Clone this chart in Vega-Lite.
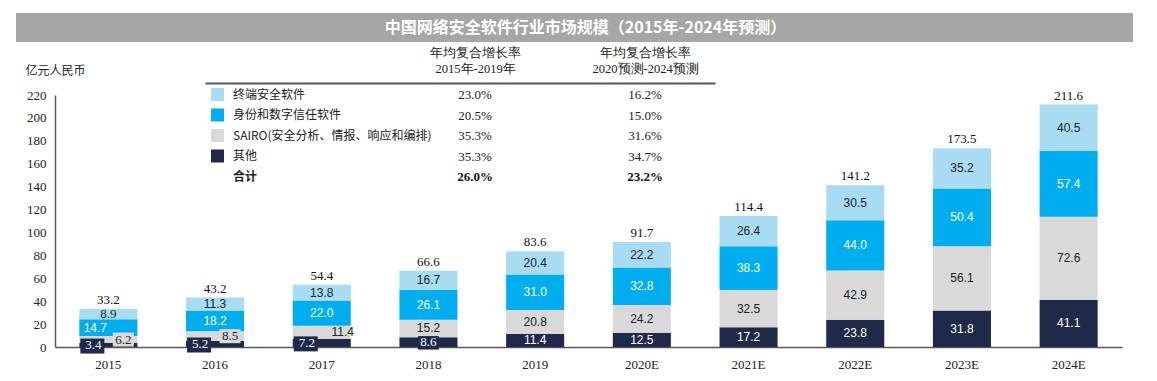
{
  "$schema": "https://vega.github.io/schema/vega-lite/v6.json",
  "width": 1067,
  "height": 252,
  "autosize": {"type": "none"},
  "padding": {"left": 55, "top": 95, "right": 35, "bottom": 34},
  "background": "white",
  "config": {
    "view": {"stroke": null},
    "axisY": {"values": [0, 20, 40, 60, 80, 100, 120, 140, 160, 180, 200, 220], "labelOverlap": false, "grid": false, "ticks": false, "domainColor": "#595959", "domainWidth": 1.5, "labelFont": "Liberation Serif", "labelFontSize": 13, "labelColor": "#222222", "labelPadding": 9},
    "axisX": {"ticks": false, "grid": false, "domainColor": "#595959", "domainWidth": 1.5, "labelFont": "Liberation Serif", "labelFontSize": 13, "labelColor": "#222222", "labelPadding": 11, "labelAngle": 0}
  },
  "datasets": {
    "market": [
      {"year": "2015", "cat": "其他", "v": 3.4},
      {"year": "2015", "cat": "SAIRO(安全分析、情报、响应和编排)", "v": 6.2},
      {"year": "2015", "cat": "身份和数字信任软件", "v": 14.7},
      {"year": "2015", "cat": "终端安全软件", "v": 8.9},
      {"year": "2016", "cat": "其他", "v": 5.2},
      {"year": "2016", "cat": "SAIRO(安全分析、情报、响应和编排)", "v": 8.5},
      {"year": "2016", "cat": "身份和数字信任软件", "v": 18.2},
      {"year": "2016", "cat": "终端安全软件", "v": 11.3},
      {"year": "2017", "cat": "其他", "v": 7.2},
      {"year": "2017", "cat": "SAIRO(安全分析、情报、响应和编排)", "v": 11.4},
      {"year": "2017", "cat": "身份和数字信任软件", "v": 22.0},
      {"year": "2017", "cat": "终端安全软件", "v": 13.8},
      {"year": "2018", "cat": "其他", "v": 8.6},
      {"year": "2018", "cat": "SAIRO(安全分析、情报、响应和编排)", "v": 15.2},
      {"year": "2018", "cat": "身份和数字信任软件", "v": 26.1},
      {"year": "2018", "cat": "终端安全软件", "v": 16.7},
      {"year": "2019", "cat": "其他", "v": 11.4},
      {"year": "2019", "cat": "SAIRO(安全分析、情报、响应和编排)", "v": 20.8},
      {"year": "2019", "cat": "身份和数字信任软件", "v": 31.0},
      {"year": "2019", "cat": "终端安全软件", "v": 20.4},
      {"year": "2020E", "cat": "其他", "v": 12.5},
      {"year": "2020E", "cat": "SAIRO(安全分析、情报、响应和编排)", "v": 24.2},
      {"year": "2020E", "cat": "身份和数字信任软件", "v": 32.8},
      {"year": "2020E", "cat": "终端安全软件", "v": 22.2},
      {"year": "2021E", "cat": "其他", "v": 17.2},
      {"year": "2021E", "cat": "SAIRO(安全分析、情报、响应和编排)", "v": 32.5},
      {"year": "2021E", "cat": "身份和数字信任软件", "v": 38.3},
      {"year": "2021E", "cat": "终端安全软件", "v": 26.4},
      {"year": "2022E", "cat": "其他", "v": 23.8},
      {"year": "2022E", "cat": "SAIRO(安全分析、情报、响应和编排)", "v": 42.9},
      {"year": "2022E", "cat": "身份和数字信任软件", "v": 44.0},
      {"year": "2022E", "cat": "终端安全软件", "v": 30.5},
      {"year": "2023E", "cat": "其他", "v": 31.8},
      {"year": "2023E", "cat": "SAIRO(安全分析、情报、响应和编排)", "v": 56.1},
      {"year": "2023E", "cat": "身份和数字信任软件", "v": 50.4},
      {"year": "2023E", "cat": "终端安全软件", "v": 35.2},
      {"year": "2024E", "cat": "其他", "v": 41.1},
      {"year": "2024E", "cat": "SAIRO(安全分析、情报、响应和编排)", "v": 72.6},
      {"year": "2024E", "cat": "身份和数字信任软件", "v": 57.4},
      {"year": "2024E", "cat": "终端安全软件", "v": 40.5}
    ],
    "series": [
      {"cat": "其他", "k": 1},
      {"cat": "SAIRO(安全分析、情报、响应和编排)", "k": 2},
      {"cat": "身份和数字信任软件", "k": 3},
      {"cat": "终端安全软件", "k": 4}
    ],
    "cagr": [
      {"name": "终端安全软件", "period": "2015年-2019年", "val": "23.0%"},
      {"name": "终端安全软件", "period": "2020预测-2024预测", "val": "16.2%"},
      {"name": "身份和数字信任软件", "period": "2015年-2019年", "val": "20.5%"},
      {"name": "身份和数字信任软件", "period": "2020预测-2024预测", "val": "15.0%"},
      {"name": "SAIRO(安全分析、情报、响应和编排)", "period": "2015年-2019年", "val": "35.3%"},
      {"name": "SAIRO(安全分析、情报、响应和编排)", "period": "2020预测-2024预测", "val": "31.6%"},
      {"name": "其他", "period": "2015年-2019年", "val": "35.3%"},
      {"name": "其他", "period": "2020预测-2024预测", "val": "34.7%"},
      {"name": "合计", "period": "2015年-2019年", "val": "26.0%"},
      {"name": "合计", "period": "2020预测-2024预测", "val": "23.2%"}
    ],
    "title": [
      {"t": "中国网络安全软件行业市场规模（2015年-2024年预测）"}
    ]
  },
  "layer": [
    {
      "data": {"name": "market"},
      "transform": [
        {"lookup": "cat", "from": {"data": {"name": "series"}, "key": "cat", "fields": ["k"]}}
      ],
      "encoding": {
        "x": {
          "field": "year", "type": "nominal", "sort": null,
          "scale": {"paddingInner": 0.456, "paddingOuter": 0.228},
          "axis": {"title": null}
        }
      },
      "layer": [
        {
          "mark": {"type": "bar"},
          "encoding": {
            "y": {
              "field": "v", "type": "quantitative", "stack": "zero",
              "scale": {"domain": [0, 220], "nice": false},
              "axis": {"title": "亿元人民币", "titleAngle": 0, "titleAlign": "left", "titleBaseline": "middle", "titleX": -30, "titleY": -25, "titleFont": "Noto Sans CJK SC", "titleFontSize": 12, "titleFontWeight": "normal", "titleColor": "#222222"}
            },
            "order": {"field": "k", "type": "quantitative"},
            "color": {
              "field": "cat", "type": "nominal",
              "scale": {
                "domain": ["其他", "SAIRO(安全分析、情报、响应和编排)", "身份和数字信任软件", "终端安全软件", "合计"],
                "range": ["#1f2a4b", "#d9d9d9", "#00aeef", "#a8dcf2", "#ffffff"]
              },
              "legend": {
                "orient": "none", "legendX": 156, "legendY": -7, "title": null,
                "values": ["终端安全软件", "身份和数字信任软件", "SAIRO(安全分析、情报、响应和编排)", "其他", "合计"],
                "symbolType": "square", "symbolSize": 169, "symbolStrokeWidth": 0,
                "labelOffset": 9, "rowPadding": 7.5, "padding": 0, "labelLimit": 400,
                "labelFont": "Noto Sans CJK SC", "labelFontSize": 12, "labelColor": "#222222",
                "labelFontWeight": {"expr": "datum.label == '合计' ? 'bold' : 'normal'"}
              }
            }
          }
        },
        {
          "transform": [{"filter": "datum.k <= 2 && datum.v < 10"}],
          "mark": {
            "type": "point", "filled": true, "opacity": 1, "size": 400, "strokeWidth": 0,
            "shape": {"expr": "datum.k == 2 ? 'M0.45,-0.7H2.55V0.7H0.45Z' : (datum.v < 8 ? 'M-2.8,-0.65H-0.4V0.85H-2.8Z' : 'M-1.05,-0.6H1.05V0.75H-1.05Z')"},
            "fill": {"expr": "datum.k == 1 ? '#1f2a4b' : '#d9d9d9'"}
          },
          "encoding": {
            "y": {"field": "v", "type": "quantitative", "stack": "zero", "bandPosition": 0.5, "scale": {"domain": [0, 220], "nice": false}, "axis": {"title": "亿元人民币", "titleAngle": 0, "titleAlign": "left", "titleBaseline": "middle", "titleX": -30, "titleY": -25, "titleFont": "Noto Sans CJK SC", "titleFontSize": 12, "titleFontWeight": "normal", "titleColor": "#222222"}},
            "order": {"field": "k", "type": "quantitative"},
            "detail": {"field": "cat", "type": "nominal"}
          }
        },
        {
          "mark": {
            "type": "text", "baseline": "middle",
            "font": {"expr": "datum.v < 10 ? 'Liberation Serif' : 'Liberation Sans'"},
            "fontSize": {"expr": "datum.v < 10 ? 13 : 12"},
            "dx": {"expr": "datum.k == 1 && datum.v < 8 ? -15 : (datum.k == 2 && datum.v < 12 ? (datum.v < 10 ? 15 : 21) : (datum.k == 3 && datum.v < 15 ? -13 : 0))"}
          },
          "encoding": {
            "y": {"field": "v", "type": "quantitative", "stack": "zero", "bandPosition": 0.5, "scale": {"domain": [0, 220], "nice": false}, "axis": {"title": "亿元人民币", "titleAngle": 0, "titleAlign": "left", "titleBaseline": "middle", "titleX": -30, "titleY": -25, "titleFont": "Noto Sans CJK SC", "titleFontSize": 12, "titleFontWeight": "normal", "titleColor": "#222222"}},
            "order": {"field": "k", "type": "quantitative"},
            "color": {
              "field": "cat", "type": "nominal",
              "scale": {
                "domain": ["其他", "SAIRO(安全分析、情报、响应和编排)", "身份和数字信任软件", "终端安全软件"],
                "range": ["#ffffff", "#222222", "#ffffff", "#222222"]
              },
              "legend": null
            },
            "text": {"field": "v", "type": "quantitative", "format": ".1f"}
          }
        },
        {
          "mark": {"type": "text", "font": "Liberation Serif", "fontSize": 13, "dy": -9, "color": "#111111", "baseline": "middle"},
          "encoding": {
            "y": {"aggregate": "sum", "field": "v", "type": "quantitative", "scale": {"domain": [0, 220], "nice": false}, "axis": {"title": "亿元人民币", "titleAngle": 0, "titleAlign": "left", "titleBaseline": "middle", "titleX": -30, "titleY": -25, "titleFont": "Noto Sans CJK SC", "titleFontSize": 12, "titleFontWeight": "normal", "titleColor": "#222222"}},
            "text": {"aggregate": "sum", "field": "v", "type": "quantitative", "format": ".1f"}
          }
        }
      ],
      "resolve": {"scale": {"color": "independent"}}
    },
    {
      "data": {"name": "cagr"},
      "encoding": {
        "x": {
          "field": "period", "type": "nominal",
          "scale": {"type": "point", "domain": ["2015年-2019年", "2020预测-2024预测"], "range": [150, 660], "padding": 1.259, "align": 0.7945},
          "axis": {"orient": "top", "title": null, "ticks": false, "domainColor": "#595959", "domainWidth": 2, "offset": 12, "labelExpr": "['年均复合增长率', datum.label]", "labelLineHeight": 15.5, "labelPadding": 23.5, "labelFont": "Liberation Serif", "labelFontSize": 12.5, "labelColor": "#222222", "labelAngle": 0}
        },
        "y": {
          "field": "name", "type": "nominal",
          "scale": {"type": "point", "domain": ["终端安全软件", "身份和数字信任软件", "SAIRO(安全分析、情报、响应和编排)", "其他", "合计"], "range": [0, 82], "padding": 0},
          "axis": null
        },
        "text": {"field": "val", "type": "nominal"}
      },
      "layer": [
        {
          "transform": [{"filter": "datum.name != '合计'"}],
          "mark": {"type": "text", "font": "Liberation Serif", "fontSize": 13, "color": "#222222", "baseline": "middle"}
        },
        {
          "transform": [{"filter": "datum.name == '合计'"}],
          "mark": {"type": "text", "font": "Liberation Serif", "fontSize": 13, "fontWeight": "bold", "color": "#111111", "baseline": "middle"}
        }
      ]
    },
    {
      "data": {"name": "title"},
      "encoding": {
        "x": {"field": "t", "type": "nominal", "scale": {"type": "band", "range": [-39, 1078], "paddingInner": 0, "paddingOuter": 0}, "axis": null},
        "y": {"field": "t", "type": "nominal", "scale": {"type": "band", "range": [-82, -53], "paddingInner": 0, "paddingOuter": 0}, "axis": null}
      },
      "layer": [
        {"mark": {"type": "rect", "color": "#a6a6a6"}},
        {
          "mark": {"type": "text", "color": "#ffffff", "font": "Noto Sans CJK SC", "fontWeight": "bold", "fontSize": 16, "baseline": "middle", "dx": 11},
          "encoding": {"text": {"field": "t", "type": "nominal"}}
        }
      ]
    }
  ],
  "resolve": {"scale": {"x": "independent", "y": "independent", "color": "independent"}}
}
